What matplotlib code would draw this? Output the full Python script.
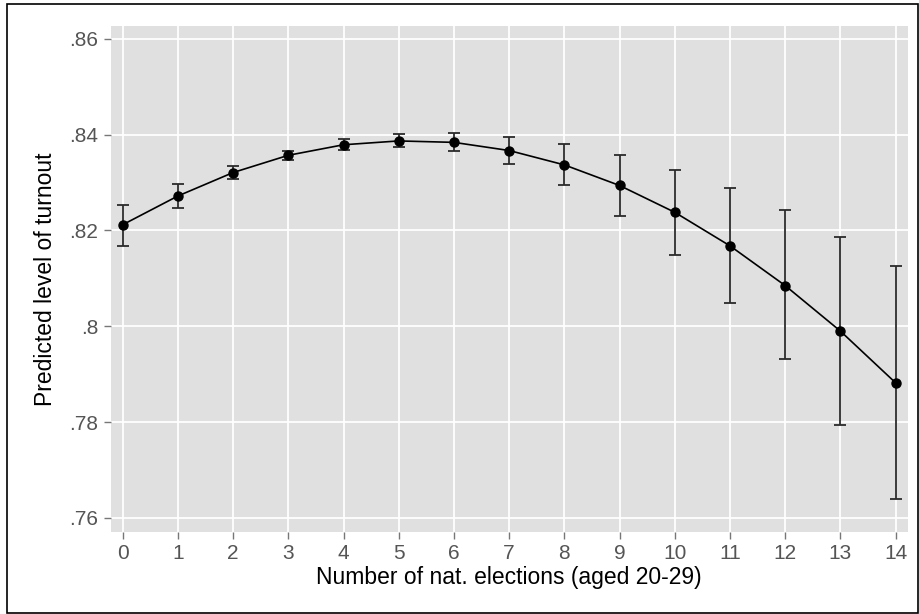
import matplotlib
matplotlib.use("Agg")
import matplotlib.pyplot as plt
from matplotlib.patches import Rectangle

plt.rcParams['font.family'] = ['Liberation Sans', 'DejaVu Sans']

elections = list(range(15))
turnout = [.8212, .8272, .8321, .8357, .8379, .8387, .8384, .8367, .8337, .8294,
           .8238, .8168, .8085, .7990, .7882]
ci_low = [.8168, .8246, .8307, .8347, .8368, .8374, .8365, .8339, .8294, .8231,
          .8149, .8049, .7931, .7794, .7640]
ci_high = [.8254, .8298, .8335, .8366, .8390, .8402, .8403, .8395, .8380, .8357,
           .8326, .8288, .8242, .8187, .8125]
y_ticks = [.76, .78, .80, .82, .84, .86]
y_ticklabels = ['.76', '.78', '.8', '.82', '.84', '.86']
x_label = 'Number of nat. elections (aged 20-29)'
y_label = 'Predicted level of turnout'

W, H = 920, 614
fig = plt.figure(figsize=(W / 100, H / 100), dpi=100)
ax = fig.add_axes([110.7 / W, 1 - 531.7 / H, (907.7 - 110.7) / W, (531.7 - 26) / H])
ax.set_facecolor('#e0e0e0')

# error bars
yerr = [[t - l for t, l in zip(turnout, ci_low)], [h - t for t, h in zip(turnout, ci_high)]]
ax.errorbar(elections, turnout, yerr=yerr, fmt='none', ecolor='#2b2b2b',
            elinewidth=1.3, capsize=4, capthick=1.3, zorder=3)
ax.plot(elections, turnout, color='black', lw=1.2, zorder=4)
ax.plot(elections, turnout, 'o', color='black', ms=6.5, zorder=5)

ax.set_xlim(-0.217, 14.22)
ax.set_ylim(.7571, .8627)
ax.set_xticks(elections)
ax.set_xticklabels([str(e) for e in elections])
ax.set_yticks(y_ticks)
ax.set_yticklabels(y_ticklabels)
ax.grid(True, color='white', lw=1.3, zorder=0)
ax.set_axisbelow(True)
for s in ax.spines.values():
    s.set_visible(False)
ax.tick_params(axis='both', colors='#777777', length=5, width=1, labelsize=15,
               labelcolor='#555555', pad=4)
ax.set_xlabel(x_label, fontsize=16.5, color='black', labelpad=2)
ax.set_ylabel(y_label, fontsize=16.5, color='black', labelpad=9)

# outer frame
fig.patches.append(Rectangle((7 / W, 1.5 / H), (918.5 - 7) / W, (610 - 1.5) / H,
                             transform=fig.transFigure, fill=False,
                             edgecolor='black', lw=1.2))

fig.savefig('out.png', dpi=100)
